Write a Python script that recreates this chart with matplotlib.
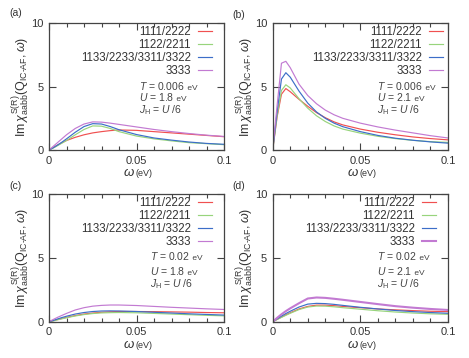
import matplotlib
matplotlib.use('Agg')
import matplotlib.pyplot as plt
from matplotlib.ticker import MultipleLocator

plt.rcParams['font.family'] = ['Liberation Sans', 'DejaVu Sans']
plt.rcParams['mathtext.fontset'] = 'custom'
plt.rcParams['mathtext.rm'] = 'Liberation Sans'
plt.rcParams['mathtext.it'] = 'Liberation Sans:italic'
plt.rcParams['mathtext.bf'] = 'Liberation Sans:bold'

# omega grid (eV)
omega = [0, 0.0025, 0.005, 0.0075, 0.01, 0.015, 0.02, 0.025, 0.03, 0.035,
         0.04, 0.05, 0.06, 0.07, 0.08, 0.09, 0.1]

labels = ['1111/2222', '1122/2211', '1133/2233/3311/3322', '3333']
colors = ['#f05050', '#98d47c', '#3c6ec8', '#c27ad2']

# (a) T=0.006, U=1.8
a_1111 = [0, 0.2, 0.4, 0.58, 0.75, 1.0, 1.2, 1.35, 1.45, 1.53, 1.58, 1.55, 1.45, 1.35, 1.25, 1.15, 1.05]
a_1122 = [0, 0.16, 0.35, 0.55, 0.75, 1.2, 1.62, 1.9, 1.88, 1.7, 1.45, 1.1, 0.88, 0.72, 0.58, 0.5, 0.42]
a_1133 = [0, 0.18, 0.4, 0.63, 0.88, 1.4, 1.85, 2.08, 2.05, 1.85, 1.6, 1.22, 0.95, 0.78, 0.63, 0.52, 0.45]
a_3333 = [0, 0.3, 0.6, 0.9, 1.2, 1.7, 2.05, 2.22, 2.2, 2.12, 2.02, 1.82, 1.62, 1.45, 1.3, 1.17, 1.07]

# (b) T=0.006, U=2.1
b_1111 = [0, 2.6, 4.4, 4.85, 4.6, 4.0, 3.45, 2.95, 2.55, 2.22, 1.98, 1.65, 1.4, 1.2, 1.03, 0.9, 0.8]
b_1122 = [0, 2.7, 4.7, 5.15, 4.9, 4.05, 3.3, 2.7, 2.25, 1.9, 1.65, 1.33, 1.08, 0.9, 0.76, 0.66, 0.6]
b_1133 = [0, 3.0, 5.6, 6.1, 5.75, 4.65, 3.7, 3.0, 2.5, 2.12, 1.84, 1.45, 1.15, 0.93, 0.77, 0.64, 0.54]
b_3333 = [0, 3.5, 6.85, 7.0, 6.5, 5.2, 4.3, 3.65, 3.15, 2.78, 2.5, 2.12, 1.82, 1.57, 1.35, 1.13, 0.95]

# (c) T=0.02, U=1.8
c_1111 = [0, 0.08, 0.17, 0.26, 0.34, 0.48, 0.6, 0.68, 0.74, 0.78, 0.8, 0.8, 0.79, 0.77, 0.75, 0.72, 0.7]
c_1122 = [0, 0.07, 0.15, 0.23, 0.31, 0.45, 0.56, 0.64, 0.69, 0.71, 0.72, 0.7, 0.65, 0.6, 0.55, 0.5, 0.46]
c_1133 = [0, 0.1, 0.22, 0.33, 0.43, 0.6, 0.72, 0.8, 0.84, 0.85, 0.84, 0.8, 0.74, 0.68, 0.62, 0.57, 0.52]
c_3333 = [0, 0.18, 0.35, 0.5, 0.65, 0.92, 1.1, 1.22, 1.28, 1.31, 1.31, 1.27, 1.2, 1.13, 1.07, 1.01, 0.96]

# (d) T=0.02, U=2.1
d_1111 = [0, 0.18, 0.36, 0.54, 0.7, 1.0, 1.2, 1.3, 1.3, 1.26, 1.2, 1.1, 1.0, 0.93, 0.87, 0.82, 0.79]
d_1122 = [0, 0.17, 0.34, 0.5, 0.66, 0.95, 1.15, 1.23, 1.22, 1.17, 1.1, 0.98, 0.86, 0.76, 0.68, 0.62, 0.58]
d_1133 = [0, 0.22, 0.44, 0.64, 0.82, 1.15, 1.38, 1.44, 1.42, 1.36, 1.28, 1.13, 1.0, 0.88, 0.79, 0.72, 0.66]
d_3333 = [0, 0.3, 0.58, 0.83, 1.05, 1.45, 1.82, 1.9, 1.87, 1.8, 1.72, 1.55, 1.38, 1.22, 1.1, 1.0, 0.92]

panels = [
    ('(a)', [a_1111, a_1122, a_1133, a_3333], '0.006', '1.8'),
    ('(b)', [b_1111, b_1122, b_1133, b_3333], '0.006', '2.1'),
    ('(c)', [c_1111, c_1122, c_1133, c_3333], '0.02', '1.8'),
    ('(d)', [d_1111, d_1122, d_1133, d_3333], '0.02', '2.1'),
]

W, H = 469, 358
# axes boxes in pixels: left, top, right, bottom
boxes = [(49, 23.3, 224, 150), (272.7, 23.3, 448, 150),
         (49, 194.3, 224, 321.7), (272.7, 194.3, 448, 321.7)]
panel_xy = [(9, 13.5), (232, 14.5), (9, 185.5), (232, 185.5)]
legend_x = [0.93, 0.97, 0.93, 0.93]
text_x = [0.514, 0.594, 0.577, 0.594]
# baselines of the T / U / J_H lines (axes fraction)
text_y = [[0.475, 0.383, 0.294], [0.475, 0.383, 0.294],
          [0.486, 0.368, 0.272], [0.486, 0.368, 0.272]]

fig = plt.figure(figsize=(W / 100, H / 100), dpi=100)
renderer = fig.canvas.get_renderer()
tc = '#333333'
gc = '#444444'


def text_with_unit(ax, x, y, main, unit, size, usize, color):
    t = ax.text(x, y, main, transform=ax.transAxes, fontsize=size,
                color=color, va='baseline')
    w = t.get_window_extent(renderer).width * 72 / fig.dpi
    ax.annotate(unit, xy=(x, y), xycoords='axes fraction', xytext=(w, 0),
                textcoords='offset points', fontsize=usize, color=color,
                va='baseline')


for i, (tag, series, T, U) in enumerate(panels):
    l, t, r, b = boxes[i]
    ax = fig.add_axes([l / W, 1 - b / H, (r - l) / W, (b - t) / H])
    for k, ys in enumerate(series):
        lw = 1.5 if (i == 3 and k == 3) else 0.85
        ax.plot(omega, ys, color=colors[k], lw=lw, label=labels[k])
    ax.set_xlim(0, 0.1)
    ax.set_ylim(0, 10)
    ax.xaxis.set_minor_locator(MultipleLocator(0.01))
    ax.yaxis.set_major_locator(MultipleLocator(5))
    ax.set_xticks([0, 0.05, 0.1])
    ax.set_xticklabels(['0', '0.05', '0.1'])
    ax.tick_params(which='both', direction='in', top=True, right=True,
                   color=gc, labelsize=8, labelcolor=tc, width=0.8)
    ax.tick_params(which='major', length=5, pad=4)
    ax.tick_params(which='minor', length=3)
    for sp in ax.spines.values():
        sp.set_color(gc)
        sp.set_linewidth(0.9)

    ax.set_ylabel(r'$\mathrm{Im}\,\chi^{\mathrm{S(R)}}_{\mathrm{aabb}}(\mathrm{Q}_{\mathrm{IC\text{-}AF}},\omega)$',
                  fontsize=9, color=tc)
    ax.yaxis.set_label_coords(-0.095, 0.5)

    # x label: large omega followed by a smaller "(eV)"
    ax.text(0.492, -0.205, r'$\omega$', transform=ax.transAxes,
            fontsize=9.5, color=tc, ha='right', va='baseline')
    ax.text(0.497, -0.205, '(eV)', transform=ax.transAxes,
            fontsize=6.5, color=tc, ha='left', va='baseline')

    leg = ax.legend(loc='upper right', bbox_to_anchor=(legend_x[i], 0.975),
                    frameon=False, markerfirst=False, fontsize=8.3,
                    handlelength=1.2, handletextpad=0.6, labelspacing=0.08,
                    borderpad=0, borderaxespad=0)
    for txt in leg.get_texts():
        txt.set_color(tc)

    tx = text_x[i]
    ty = text_y[i]
    text_with_unit(ax, tx, ty[0], r'$T$ = ' + T, ' eV', 7.5, 6, gc)
    text_with_unit(ax, tx, ty[1], r'$U$ = ' + U, ' eV', 7.5, 6, gc)
    ax.text(tx, ty[2], r'$J_{\mathrm{H}}$ = $U$ /6', transform=ax.transAxes,
            fontsize=7.5, color=gc, va='baseline')

    fig.text(panel_xy[i][0] / W, 1 - panel_xy[i][1] / H, tag,
             fontsize=7.5, color=tc, va='center', ha='left')

fig.savefig('out.png', dpi=100)
